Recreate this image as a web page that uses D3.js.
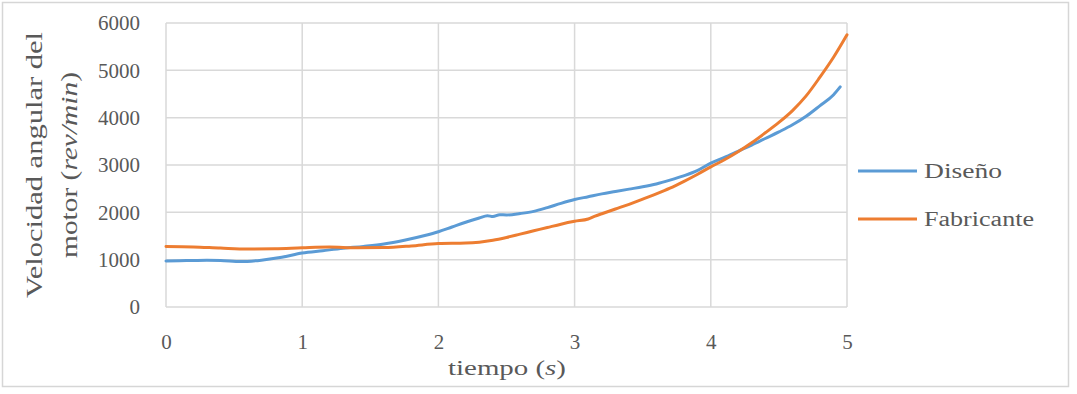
<!DOCTYPE html>
<html lang="es">
<head>
<meta charset="UTF-8">
<title>Velocidad angular del motor</title>
<script src="https://cdn.jsdelivr.net/npm/d3@7"></script>
<style>
  body { margin: 0; background: #fff; }
  svg text { font-family: "Liberation Serif", "Times New Roman", serif; fill: #595959; }
</style>
</head>
<body>
<svg id="chart" width="1077" height="394"></svg>
<script>
  // datos
  var tiempoDiseno = [0, 0.1, 0.2, 0.3, 0.4, 0.55, 0.7, 0.85, 1.0, 1.15, 1.3, 1.45, 1.6, 1.75, 1.9, 2.0, 2.1, 2.2, 2.3, 2.36, 2.4, 2.45, 2.5, 2.6, 2.7, 2.8, 2.9, 3.0, 3.1, 3.2, 3.3, 3.4, 3.5, 3.6, 3.7, 3.8, 3.9, 4.0, 4.1, 4.2, 4.3, 4.4, 4.5, 4.6, 4.7, 4.8, 4.9, 4.95]
  var velDiseno = [970, 975, 985, 990, 985, 960, 990, 1050, 1140, 1190, 1240, 1280, 1330, 1410, 1510, 1590, 1690, 1790, 1880, 1930, 1910, 1950, 1945, 1975, 2020, 2100, 2190, 2270, 2330, 2390, 2440, 2490, 2540, 2600, 2680, 2770, 2880, 3040, 3160, 3290, 3420, 3560, 3700, 3850, 4030, 4250, 4480, 4650]

  var tiempoFab = [0, 0.2, 0.4, 0.6, 0.8, 1.0, 1.2, 1.4, 1.6, 1.8, 2.0, 2.2, 2.3, 2.4, 2.5, 2.6, 2.7, 2.8, 2.9, 3.0, 3.1, 3.15, 3.2, 3.3, 3.4, 3.5, 3.6, 3.7, 3.8, 3.9, 4.0, 4.1, 4.2, 4.3, 4.4, 4.5, 4.6, 4.7, 4.8, 4.9, 5.0]
  var velFab = [1280, 1270, 1245, 1225, 1230, 1250, 1265, 1250, 1255, 1290, 1340, 1350, 1370, 1410, 1470, 1540, 1610, 1680, 1750, 1810, 1860, 1920, 1970, 2070, 2170, 2280, 2390, 2510, 2650, 2800, 2960, 3110, 3280, 3470, 3680, 3900, 4150, 4460, 4850, 5270, 5750]

  var xTicks = [0, 1, 2, 3, 4, 5]
  var yTicks = [0, 1000, 2000, 3000, 4000, 5000, 6000]
  var seriesNames = ['Diseño', 'Fabricante']
  var seriesColors = ['#5b9bd5', '#ed7d31']

  var svg = d3.select('#chart')

  // marco exterior
  svg.append('rect')
    .attr('x', 2.5).attr('y', 2.5)
    .attr('width', 1066).attr('height', 384)
    .attr('fill', 'none').attr('stroke', '#d6d6d6').attr('stroke-width', 1.5)

  var x = d3.scaleLinear().domain([0, 5]).range([166, 847])
  var y = d3.scaleLinear().domain([0, 6000]).range([307, 23])

  // rejilla
  svg.append('g').selectAll('line').data(yTicks).enter().append('line')
    .attr('x1', x(0)).attr('x2', x(5))
    .attr('y1', function (d) { return y(d) }).attr('y2', function (d) { return y(d) })
    .attr('stroke', '#d9d9d9').attr('stroke-width', 1.5)
  svg.append('g').selectAll('line').data(xTicks).enter().append('line')
    .attr('y1', y(0)).attr('y2', y(6000))
    .attr('x1', function (d) { return x(d) }).attr('x2', function (d) { return x(d) })
    .attr('stroke', '#d9d9d9').attr('stroke-width', 1.5)

  // ejes (solo etiquetas)
  var gx = svg.append('g').attr('transform', 'translate(0,' + y(0) + ')')
    .call(d3.axisBottom(x).tickValues(xTicks).tickSize(0).tickPadding(27).tickFormat(d3.format('d')))
  var gy = svg.append('g').attr('transform', 'translate(' + x(0) + ',0)')
    .call(d3.axisLeft(y).tickValues(yTicks).tickSize(0).tickPadding(26).tickFormat(d3.format('d')))
  gx.select('.domain').remove()
  gy.select('.domain').remove()
  svg.selectAll('.tick text')
    .attr('fill', '#595959')
    .style('font-family', '"Liberation Serif", serif')
    .style('font-size', '21px')

  // curvas
  var line = d3.line()
    .x(function (d) { return x(d[0]) })
    .y(function (d) { return y(d[1]) })
    .curve(d3.curveMonotoneX)

  var series = [
    d3.zip(tiempoDiseno, velDiseno),
    d3.zip(tiempoFab, velFab)
  ]
  series.forEach(function (s, i) {
    svg.append('path')
      .attr('d', line(s))
      .attr('fill', 'none')
      .attr('stroke', seriesColors[i])
      .attr('stroke-width', 3)
      .attr('stroke-linejoin', 'round')
      .attr('stroke-linecap', 'round')
  })

  // titulo eje x
  var tx = svg.append('text')
    .attr('x', 507).attr('y', 375)
    .attr('text-anchor', 'middle')
    .attr('textLength', 118).attr('lengthAdjust', 'spacingAndGlyphs')
    .style('font-size', '22px')
  tx.append('tspan').text('tiempo (')
  tx.append('tspan').style('font-style', 'italic').text('s')
  tx.append('tspan').text(')')

  // titulo eje y (dos lineas)
  svg.append('text')
    .attr('transform', 'translate(42,165) rotate(-90)')
    .attr('text-anchor', 'middle')
    .attr('textLength', 266).attr('lengthAdjust', 'spacingAndGlyphs')
    .style('font-size', '23px')
    .text('Velocidad angular del')
  var ty = svg.append('text')
    .attr('transform', 'translate(77,165) rotate(-90)')
    .attr('text-anchor', 'middle')
    .attr('textLength', 186).attr('lengthAdjust', 'spacingAndGlyphs')
    .style('font-size', '23px')
  ty.append('tspan').text('motor (')
  ty.append('tspan').style('font-style', 'italic').text('rev/min')
  ty.append('tspan').text(')')

  // leyenda
  var legendY = [171, 219]
  var legendLen = [78, 110]
  seriesNames.forEach(function (name, i) {
    svg.append('line')
      .attr('x1', 858).attr('x2', 917)
      .attr('y1', legendY[i]).attr('y2', legendY[i])
      .attr('stroke', seriesColors[i]).attr('stroke-width', 3)
    svg.append('text')
      .attr('x', 924).attr('y', legendY[i] + 7)
      .attr('textLength', legendLen[i]).attr('lengthAdjust', 'spacingAndGlyphs')
      .style('font-size', '20px')
      .text(name)
  })
</script>
</body>
</html>
